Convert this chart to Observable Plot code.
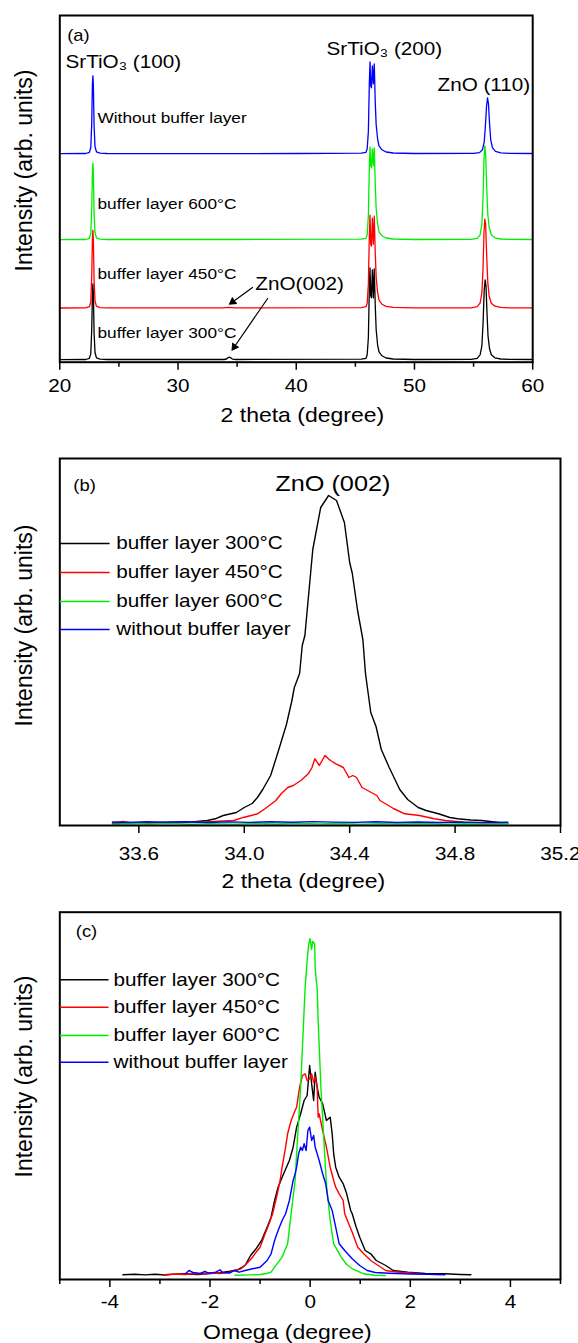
<!DOCTYPE html>
<html><head><meta charset="utf-8">
<script src="https://cdn.jsdelivr.net/npm/d3@7"></script>
<script src="https://cdn.jsdelivr.net/npm/@observablehq/plot@0.6"></script>
<style>
body{margin:0;background:#fff;width:578px;}
#chart svg{display:block;}
</style></head><body><div id="chart"></div>
<script>
// ---------- shared ----------
const seriesNames = ["buffer layer 300°C", "buffer layer 450°C", "buffer layer 600°C", "without buffer layer"];
const seriesColors = ["#000000", "#ff0000", "#00ee00", "#0000ff"];
const yLabel = "Intensity (arb. units)";

// ---------- panel (a): 2theta scans, stacked ----------
const aTicks = [20, 30, 40, 50, 60];
const aMinorTicks = [25, 35, 45, 55];
const aOffsets = [2.4, 54, 122.4, 208.4];
const a300 = [[20,0.2],[22.2,0.3],[22.5,1.5],[22.62,6],[22.7,30],[22.76,66],[22.8,76],[22.84,66],[22.9,27],[22.98,7],[23.1,2],[23.4,0.6],[24,0.3],[33.9,0.3],[34.1,0.8],[34.25,2.2],[34.35,2.6],[34.45,2],[34.6,0.7],[34.9,0.3],[45.5,0.6],[45.9,1.5],[46.0,5],[46.1,22],[46.18,70],[46.24,92],[46.3,64],[46.36,62],[46.44,90],[46.52,62],[46.6,91],[46.68,55],[46.76,30],[46.88,15],[47.0,8],[47.25,4],[47.6,1.8],[48.2,0.8],[50,0.3],[54.8,0.4],[55.3,1.5],[55.55,5],[55.7,14],[55.8,36],[55.9,70],[55.98,80],[56.05,74],[56.13,48],[56.22,24],[56.35,11],[56.5,5],[56.8,2],[57.3,0.8],[58,0.4],[60,0.3]];
const a450 = [[20,0.2],[22.2,0.3],[22.5,1.5],[22.62,6],[22.7,32],[22.76,70],[22.8,78],[22.84,68],[22.9,28],[22.98,7],[23.1,2],[23.4,0.6],[24,0.3],[33.8,0.3],[34.3,0.8],[34.8,0.3],[45.5,0.6],[45.9,1.5],[46.0,5],[46.1,24],[46.18,72],[46.24,93],[46.3,64],[46.36,62],[46.44,90],[46.52,64],[46.6,92],[46.68,56],[46.76,31],[46.88,16],[47.0,8],[47.25,4],[47.6,1.8],[48.2,0.8],[50,0.3],[54.8,0.4],[55.3,1.5],[55.55,5],[55.7,15],[55.8,40],[55.88,76],[55.95,89],[56.02,84],[56.1,55],[56.2,26],[56.32,12],[56.5,5],[56.8,2],[57.3,0.8],[58,0.4],[60,0.3]];
const a600 = [[20,0.2],[22.2,0.3],[22.5,1.5],[22.62,6],[22.7,30],[22.76,68],[22.8,77],[22.84,66],[22.9,27],[22.98,7],[23.1,2],[23.4,0.6],[24,0.3],[35,0.3],[45.5,0.6],[45.9,1.5],[46.0,5],[46.1,24],[46.18,72],[46.24,93],[46.3,74],[46.36,72],[46.44,91],[46.52,74],[46.6,92],[46.68,56],[46.76,31],[46.88,16],[47.0,8],[47.25,4],[47.6,1.8],[48.2,0.8],[50,0.3],[54.8,0.4],[55.3,1.5],[55.55,5],[55.7,16],[55.8,42],[55.88,80],[55.95,94],[56.02,86],[56.1,55],[56.2,26],[56.32,12],[56.5,5],[56.8,2],[57.3,0.8],[58,0.4],[60,0.3]];
const aNone = [[20,0.2],[22.2,0.3],[22.5,1.5],[22.62,6],[22.7,30],[22.76,70],[22.8,78],[22.84,68],[22.9,28],[22.98,7],[23.1,2],[23.4,0.6],[24,0.3],[30,0.2],[40,0.3],[45.5,0.6],[45.9,1.5],[46.0,5],[46.1,22],[46.18,70],[46.24,92],[46.3,68],[46.36,66],[46.44,88],[46.52,70],[46.6,90],[46.68,52],[46.76,29],[46.88,15],[47.0,8],[47.25,4],[47.6,1.8],[48.2,0.8],[50,0.3],[55,0.4],[55.5,1.2],[55.75,4],[55.9,12],[56.0,28],[56.1,48],[56.18,56],[56.26,50],[56.35,30],[56.45,14],[56.6,6],[56.85,2.5],[57.3,1],[58,0.4],[60,0.3]];

// ---------- panel (b): ZnO (002) ----------
const bTicks = [33.6, 34.0, 34.4, 34.8, 35.2];
const b300 = [[33.50,2],[33.60,2.3],[33.70,3],[33.80,3.6],[33.86,5],[33.89,6.7],[33.92,10],[33.97,13],[34.00,18],[34.03,22],[34.05,28],[34.07,36],[34.10,50],[34.13,75],[34.16,101],[34.18,124],[34.19,138],[34.21,152],[34.22,180],[34.23,190],[34.26,276],[34.29,318],[34.32,330],[34.35,325],[34.38,303],[34.40,263],[34.41,252],[34.43,215],[34.45,186],[34.46,152],[34.48,113],[34.50,99],[34.52,76],[34.55,58],[34.57,47],[34.59,36],[34.62,26],[34.66,18],[34.69,15],[34.74,11.5],[34.78,8],[34.81,6.7],[34.86,5.5],[34.90,5],[34.95,3.5],[35.00,2]];
const b450 = [[33.50,2.5],[33.54,4],[33.58,2.6],[33.70,3],[33.85,3.5],[33.96,5],[34.00,8.3],[34.05,11.7],[34.08,17],[34.12,25],[34.14,31.7],[34.165,38],[34.186,40],[34.215,45],[34.243,51.7],[34.257,58],[34.268,66.7],[34.285,60],[34.306,70],[34.327,65],[34.348,61.7],[34.376,58],[34.397,48],[34.412,50],[34.426,48],[34.447,38],[34.482,33],[34.503,30],[34.515,25],[34.566,17],[34.609,11.7],[34.665,10],[34.721,6.7],[34.763,5],[34.834,3.3],[34.92,2.8],[35.0,2.3]];
const b600 = [[33.50,1.4],[33.57,2.0],[33.64,1.5],[33.72,2.1],[33.80,1.3],[33.88,1.9],[33.96,1.4],[34.04,2.0],[34.12,1.5],[34.20,2.2],[34.28,1.6],[34.36,2.0],[34.44,1.4],[34.52,1.9],[34.60,1.5],[34.68,2.0],[34.76,1.3],[34.84,1.8],[34.92,1.4],[35.00,1.7]];
const bNone = [[33.50,3.5],[33.56,3.0],[33.63,3.8],[33.70,3.2],[33.78,3.7],[33.86,3.0],[33.94,3.6],[34.02,3.1],[34.10,3.8],[34.18,3.3],[34.26,3.9],[34.34,3.4],[34.42,3.1],[34.50,3.7],[34.58,3.0],[34.66,3.5],[34.74,3.0],[34.82,3.4],[34.90,2.9],[35.00,3.2]];

// ---------- panel (c): omega rocking curves ----------
const cTicks = [-4, -2, 0, 2, 4];
const cMinorTicks = [-5, -3, -1, 1, 3, 5];
const c300 = [[-3.74,4.7],[-3.5,5.3],[-3.3,4.6],[-3.1,5.2],[-2.9,4.5],[-2.7,5.4],[-2.49,5.7],[-2.25,5.0],[-2.0,6.0],[-1.8,6.8],[-1.6,8.3],[-1.45,9.7],[-1.30,14],[-1.19,24],[-1.08,30.7],[-0.97,39],[-0.86,52.3],[-0.78,62.3],[-0.71,79],[-0.64,92.3],[-0.53,105.7],[-0.415,119],[-0.34,132.3],[-0.27,152.3],[-0.19,165.7],[-0.12,179],[-0.06,184],[-0.01,214],[0.03,195.7],[0.07,179],[0.10,207.3],[0.14,192.3],[0.18,182.3],[0.25,175.7],[0.325,159],[0.40,162.3],[0.44,145.7],[0.47,125.7],[0.51,112.3],[0.58,102.3],[0.66,95.7],[0.73,85.7],[0.81,69],[0.84,65.7],[0.92,52.3],[0.99,42.3],[1.10,29],[1.21,25.7],[1.32,19],[1.51,14],[1.66,9],[1.95,7.3],[2.3,6],[2.69,5.7],[3.0,5],[3.21,4.7]];
const c450 = [[-2.93,4.7],[-2.7,5.5],[-2.5,5],[-2.3,6],[-2.12,5.7],[-1.95,6.5],[-1.8,6],[-1.6,7.3],[-1.38,10.7],[-1.27,15.7],[-1.15,22.3],[-1.08,27.3],[-1.0,32.3],[-0.9,45.7],[-0.82,55.7],[-0.75,65.7],[-0.67,82.3],[-0.6,99],[-0.56,112.3],[-0.49,132.3],[-0.45,145.7],[-0.38,159],[-0.30,169],[-0.27,172.3],[-0.21,192.3],[-0.155,204],[-0.10,205.7],[-0.06,199],[-0.01,200.7],[0.03,205.7],[0.07,197.3],[0.10,202.3],[0.14,192.3],[0.16,162.3],[0.18,165.7],[0.25,149],[0.325,132.3],[0.40,112.3],[0.47,99],[0.51,92.3],[0.58,85.7],[0.66,79],[0.69,65.7],[0.77,55.7],[0.84,47.3],[0.95,32.3],[1.07,25.7],[1.21,19],[1.36,14],[1.51,9],[1.65,8],[1.80,7.3],[2.0,6.5],[2.17,5.7]];
const c600 = [[-1.5,4.2],[-1.2,4.6],[-1.0,5],[-0.87,6],[-0.78,7.3],[-0.71,12.3],[-0.56,22.3],[-0.45,35.7],[-0.38,65.7],[-0.30,99],[-0.27,125.7],[-0.19,192.3],[-0.13,259],[-0.10,292.3],[-0.06,319],[-0.03,335],[0.0,340.7],[0.03,330],[0.05,338],[0.09,335.7],[0.10,312],[0.12,300],[0.14,292],[0.16,259],[0.215,192],[0.29,125.7],[0.325,95.7],[0.40,59],[0.47,35.7],[0.62,22.3],[0.73,15],[0.84,10.7],[1.07,5.7],[1.29,4.2],[1.5,4]];
const cNone = [[-2.49,5.7],[-2.42,9],[-2.34,7],[-2.2,6],[-2.1,8],[-2.04,6.5],[-1.9,7],[-1.8,9.7],[-1.75,7],[-1.6,6.5],[-1.52,9],[-1.42,7.3],[-1.3,9],[-1.15,10.7],[-1.0,12.3],[-0.86,19],[-0.78,25.7],[-0.71,39],[-0.64,49],[-0.56,59],[-0.49,65.7],[-0.415,79],[-0.34,99],[-0.30,105.7],[-0.27,112.3],[-0.23,125.7],[-0.19,132.3],[-0.155,129],[-0.12,135.7],[-0.08,129],[-0.045,149],[-0.01,152.3],[0.03,139],[0.07,144],[0.10,132.3],[0.14,125.7],[0.18,119],[0.25,105.7],[0.31,95.7],[0.36,79],[0.44,69],[0.51,52.3],[0.58,35.7],[0.69,29],[0.84,20.7],[0.99,14],[1.14,9],[1.3,7],[1.58,6.3],[2.0,5.5],[2.35,5.2],[2.69,4.7]];

// ---------- helpers ----------
const FONT = "'Liberation Sans', Arial, Helvetica, sans-serif";
const STRETCH = 1.15;
function toRows(list, offsets) {
  return list.flatMap((arr, i) => arr.map(([x, y]) => ({x, y: y + (offsets ? offsets[i] : 0), s: seriesNames[i]})));
}
const ann = (t, x, y, o = {}) => Plot.text([t], {x, y, text: d => d, fill: "black", ...o});
function stretchText(svg) {
  svg.querySelectorAll("text").forEach(t => {
    const tr = t.getAttribute("transform") || "";
    if (tr.includes("rotate")) return;
    if (tr) t.setAttribute("transform", tr + ` scale(${STRETCH},1)`);
    else {
      const x = +t.getAttribute("x") || 0, y = +t.getAttribute("y") || 0;
      t.setAttribute("transform", `translate(${x},${y}) scale(${STRETCH},1) translate(${-x},${-y})`);
    }
  });
  return svg;
}
const colorScale = {domain: seriesNames, range: seriesColors};
const style = {fontFamily: FONT, color: "black", background: "white", overflow: "visible"};

// ---------- plot (a) ----------
const plotA = Plot.plot({
  width: 578, height: 440,
  marginTop: 15, marginBottom: 78.3, marginLeft: 59.3, marginRight: 45.8,
  x: {domain: [20, 60]},
  y: {domain: [0, 346.7], axis: null},
  color: colorScale,
  style,
  marks: [
    Plot.line(toRows([a300, a450, a600, aNone], aOffsets), {x: "x", y: "y", z: "s", stroke: "s", strokeWidth: 1.3}),
    Plot.frame({stroke: "black", strokeWidth: 2}),
    Plot.axisX(aTicks, {tickSize: 8, tickPadding: 8.7, fontSize: 18, strokeWidth: 1.5, tickFormat: d => String(d), label: null}),
    Plot.axisX(aMinorTicks, {tickSize: 5, strokeWidth: 1.5, tickFormat: () => "", label: null}),
    ann("(a)", 21.58, 326.7, {fontSize: 16, lineAnchor: "middle"}),
    ann("SrTiO₃ (100)", 20.48, 300, {fontSize: 18, textAnchor: "start", lineAnchor: "middle"}),
    ann("SrTiO₃ (200)", 42.56, 313.4, {fontSize: 18, textAnchor: "start", lineAnchor: "middle"}),
    ann("ZnO (110)", 51.95, 276.7, {fontSize: 18, textAnchor: "start", lineAnchor: "middle"}),
    ann("Without buffer layer", 23.19, 243.7, {fontSize: 15, textAnchor: "start", lineAnchor: "middle"}),
    ann("buffer layer 600°C", 23.19, 157.7, {fontSize: 15, textAnchor: "start", lineAnchor: "middle"}),
    ann("buffer layer 450°C", 23.19, 87.7, {fontSize: 15, textAnchor: "start", lineAnchor: "middle"}),
    ann("buffer layer 300°C", 23.19, 29, {fontSize: 15, textAnchor: "start", lineAnchor: "middle"}),
    ann("ZnO(002)", 40.28, 77.7, {fontSize: 18, lineAnchor: "middle"}),
    Plot.arrow([0], {x1: 36.3, y1: 74.7, x2: 34.44, y2: 58.7, stroke: "black", strokeWidth: 1.2, headLength: 7}),
    Plot.arrow([0], {x1: 37.58, y1: 63.7, x2: 34.61, y2: 12.7, stroke: "black", strokeWidth: 1.2, headLength: 7}),
    Plot.dot([0], {x: 34.62, y: 60.3, symbol: "triangle", r: 3.2, fill: "black", rotate: -126}),
    Plot.dot([0], {x: 34.76, y: 15.3, symbol: "triangle", r: 3.2, fill: "black", rotate: -145}),
    ann("2 theta (degree)", 40.52, -53.3, {fontSize: 20, lineAnchor: "middle"}),
    ann(yLabel, 17.01, 191.7, {fontSize: 23, rotate: -90, lineAnchor: "middle"})
  ]
});

// ---------- plot (b) ----------
const bLegendY = [282, 253, 224, 196];
const plotB = Plot.plot({
  width: 578, height: 453,
  marginTop: 18, marginBottom: 68, marginLeft: 59.3, marginRight: 18,
  x: {domain: [33.3, 35.2]},
  y: {domain: [0, 367], axis: null},
  color: colorScale,
  style,
  marks: [
    Plot.line(toRows([b300, b450, b600, bNone]), {x: "x", y: "y", z: "s", stroke: "s", strokeWidth: 1.4}),
    Plot.frame({stroke: "black", strokeWidth: 2}),
    Plot.axisX(bTicks, {tickSize: 8, tickPadding: 13.7, fontSize: 18, strokeWidth: 1.5, tickFormat: d3.format(".1f"), label: null}),
    ann("(b)", 33.394, 340, {fontSize: 16, lineAnchor: "middle"}),
    ann("ZnO (002)", 34.336, 341.7, {fontSize: 22, lineAnchor: "middle"}),
    Plot.link(seriesNames, {x1: 33.3, x2: 33.489, y1: (d, i) => bLegendY[i], y2: (d, i) => bLegendY[i], stroke: d => d, strokeWidth: 1.5}),
    Plot.text(seriesNames, {x: 33.514, y: (d, i) => bLegendY[i], text: d => d, fontSize: 18, textAnchor: "start", lineAnchor: "middle", fill: "black"}),
    ann("2 theta (degree)", 34.224, -55.7, {fontSize: 20, lineAnchor: "middle"}),
    ann(yLabel, 33.166, 200, {fontSize: 23, rotate: -90, lineAnchor: "middle"})
  ]
});

// ---------- plot (c) ----------
const cLegendY = [299.7, 272.3, 244, 217.3];
const plotC = Plot.plot({
  width: 578, height: 450,
  marginTop: 18.7, marginBottom: 64, marginLeft: 59.3, marginRight: 18,
  x: {domain: [-5, 5]},
  y: {domain: [0, 367.3], axis: null},
  color: colorScale,
  style,
  marks: [
    Plot.line(toRows([c300, c450, c600, cNone]), {x: "x", y: "y", z: "s", stroke: "s", strokeWidth: 1.4}),
    Plot.frame({stroke: "black", strokeWidth: 2}),
    Plot.axisX(cTicks, {tickSize: 8, tickPadding: 8, fontSize: 18, strokeWidth: 1.5, tickFormat: d => String(d), label: null}),
    Plot.axisX(cMinorTicks, {tickSize: 5, strokeWidth: 1.5, tickFormat: () => "", label: null}),
    ann("(c)", -4.467, 347.3, {fontSize: 16, lineAnchor: "middle"}),
    Plot.link(seriesNames, {x1: -5, x2: -4.027, y1: (d, i) => cLegendY[i], y2: (d, i) => cLegendY[i], stroke: d => d, strokeWidth: 1.5}),
    Plot.text(seriesNames, {x: -3.927, y: (d, i) => cLegendY[i], text: d => d, fontSize: 18, textAnchor: "start", lineAnchor: "middle", fill: "black"}),
    ann("Omega (degree)", -0.455, -53, {fontSize: 20, lineAnchor: "middle"}),
    ann(yLabel, -5.705, 203, {fontSize: 23, rotate: -90, lineAnchor: "middle"})
  ]
});

const root = document.getElementById("chart");
[plotA, plotB, plotC].forEach(p => root.appendChild(stretchText(p)));
</script></body></html>
